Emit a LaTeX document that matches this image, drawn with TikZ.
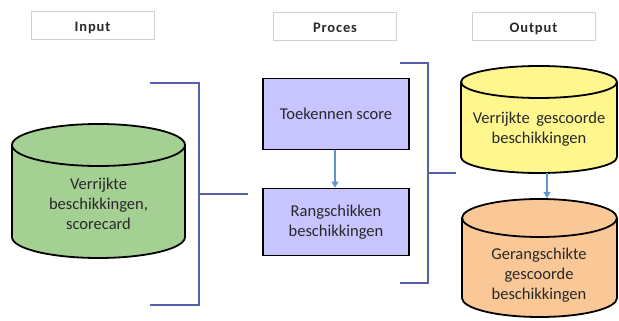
\documentclass[tikz,border=0pt]{standalone}
\usepackage{fontspec}
\setmainfont{Carlito}
\usetikzlibrary{arrows.meta}
\definecolor{cgreen}{RGB}{165,208,148}
\definecolor{cyellow}{RGB}{255,246,142}
\definecolor{corange}{RGB}{250,200,150}
\definecolor{clav}{RGB}{200,196,255}
\definecolor{cbrack}{RGB}{88,96,172}
\definecolor{carrow}{RGB}{95,150,205}
\definecolor{ctext}{RGB}{40,40,40}
\tikzset{
  header/.style={draw=black!18, line width=0.6pt, minimum width=123pt, minimum height=28pt, inner sep=0pt, text height=13pt, text depth=0pt, font=\addfontfeatures{LetterSpace=6}\bfseries\fontsize{14.5}{16}\selectfont, text=ctext},
  procbox/.style={draw=black, line width=1.8pt, fill=clav, minimum width=146pt, inner sep=0pt, align=center, font=\fontsize{16.5}{20}\selectfont, text=ctext},
  cyltext/.style={align=center, font=\fontsize{16.5}{20}\selectfont, text=ctext, inner sep=0pt},
  cylline/.style={draw=black, line width=1.8pt},
  bracket/.style={draw=cbrack, line width=2.6pt},
  flow/.style={draw=carrow, line width=1.2pt, -{Triangle[length=6pt,width=7pt]}},
}
\begin{document}
\begin{tikzpicture}[x=1pt,y=1pt]
\useasboundingbox (0,0) rectangle (619,321);
% headers
\node[header] (hin) at (92.5,296) {Input};
\node[header] (hproc) at (335,295) {Proces};
\node[header] (hout) at (533.5,295) {Output};
% green cylinder
\filldraw[cylline, fill=cgreen] (12,176) -- (12,84) arc[start angle=180,end angle=360,x radius=86.5,y radius=21] -- (185,176) arc[start angle=0,end angle=180,x radius=86.5,y radius=21] -- cycle;
\draw[cylline] (12,176) arc[start angle=180,end angle=360,x radius=86.5,y radius=21];
\node[cyltext] (inp) at (98.5,117) {Verrijkte\\beschikkingen,\\scorecard};
% yellow cylinder
\filldraw[cylline, fill=cyellow] (461,239) -- (461,164) arc[start angle=180,end angle=360,x radius=78,y radius=16] -- (617,239) arc[start angle=0,end angle=180,x radius=78,y radius=16] -- cycle;
\draw[cylline] (461,239) arc[start angle=180,end angle=360,x radius=78,y radius=16];
\node[cyltext] (out1) at (539,192) {Verrijkte\, gescoorde\\beschikkingen};
\coordinate (out1b) at (547,148);
% orange cylinder
\filldraw[cylline, fill=corange] (462,103) -- (462,23) arc[start angle=180,end angle=360,x radius=77.5,y radius=19] -- (617,103) arc[start angle=0,end angle=180,x radius=77.5,y radius=19] -- cycle;
\draw[cylline] (462,103) arc[start angle=180,end angle=360,x radius=77.5,y radius=19];
\node[cyltext] (out2) at (539,46) {Gerangschikte\\gescoorde\\beschikkingen};
\coordinate (out2t) at (547,123);
% process boxes
\node[procbox, minimum height=71pt] (p1) at (336,207) {Toekennen score};
\node[procbox, minimum height=67pt] (p2) at (336,99) {Rangschikken\\beschikkingen};
% arrows
\draw[flow] (p1.south -| 335,0) -- (p2.north -| 335,0);
\draw[flow] (out1b) -- (out2t);
% left bracket
\coordinate (lb1) at (150,238);
\coordinate (lb2) at (199,238);
\coordinate (lb3) at (199,16);
\coordinate (lb4) at (150,16);
\coordinate (lbm) at (199,127);
\coordinate (lbe) at (248,127);
\draw[bracket] (lb1) -- (lb2) -- (lb3) -- (lb4);
\draw[bracket] (lbm) -- (lbe);
% right bracket
\coordinate (rb1) at (400,258);
\coordinate (rb2) at (428,258);
\coordinate (rb3) at (428,38);
\coordinate (rb4) at (400,38);
\coordinate (rbm) at (428,148);
\coordinate (rbe) at (456,148);
\draw[bracket] (rb1) -- (rb2) -- (rb3) -- (rb4);
\draw[bracket] (rbm) -- (rbe);
\end{tikzpicture}
\end{document}
